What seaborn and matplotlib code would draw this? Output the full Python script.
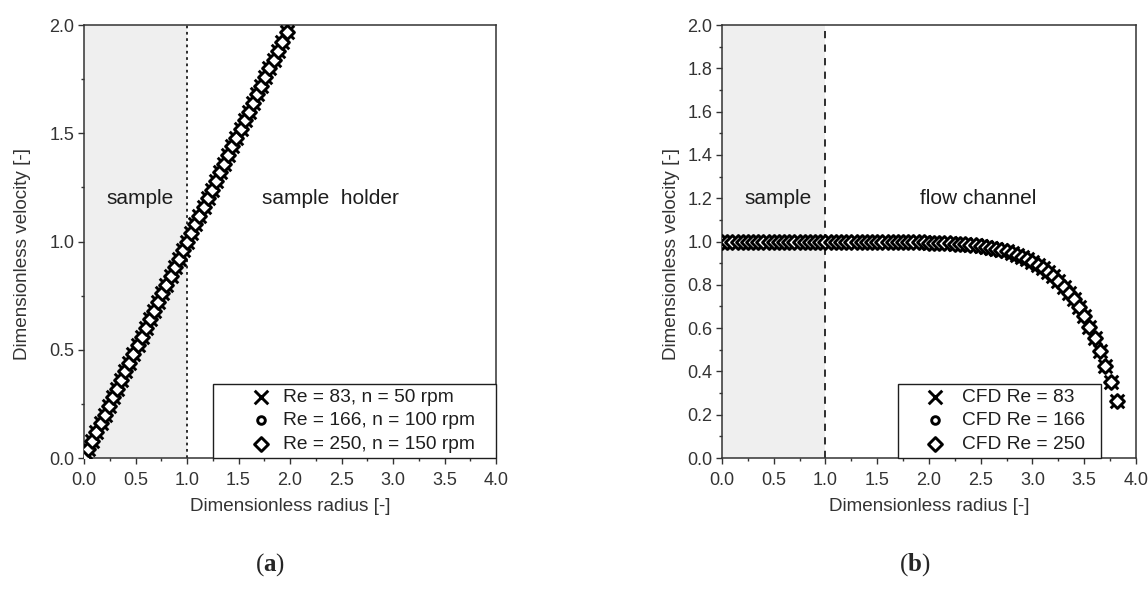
import matplotlib
matplotlib.use("Agg")
import matplotlib.pyplot as plt
from matplotlib.ticker import MultipleLocator, FormatStrFormatter
import seaborn as sns
import pandas as pd

# --- (a) rotating sample holder: linear velocity profile -------------------
radius_a = [0.00, 0.04, 0.08, 0.12, 0.16, 0.20, 0.24, 0.28, 0.32, 0.36,
            0.40, 0.44, 0.48, 0.52, 0.56, 0.60, 0.64, 0.68, 0.72, 0.76,
            0.80, 0.84, 0.88, 0.92, 0.96, 1.00, 1.04, 1.08, 1.12, 1.16,
            1.20, 1.24, 1.28, 1.32, 1.36, 1.40, 1.44, 1.48, 1.52, 1.56,
            1.60, 1.64, 1.68, 1.72, 1.76, 1.80, 1.84, 1.88, 1.92, 1.97]
velocity_a = [0.00, 0.04, 0.08, 0.12, 0.16, 0.20, 0.24, 0.28, 0.32, 0.36,
              0.40, 0.44, 0.48, 0.52, 0.56, 0.60, 0.64, 0.68, 0.72, 0.76,
              0.80, 0.84, 0.88, 0.92, 0.96, 1.00, 1.04, 1.08, 1.12, 1.16,
              1.20, 1.24, 1.28, 1.32, 1.36, 1.40, 1.44, 1.48, 1.52, 1.56,
              1.60, 1.64, 1.68, 1.72, 1.76, 1.80, 1.84, 1.88, 1.92, 1.97]
labels_a = ["Re = 83, n = 50 rpm", "Re = 166, n = 100 rpm", "Re = 250, n = 150 rpm"]

# --- (b) flow channel: CFD velocity profile ---------------------------------
radius_b = [0.00, 0.05, 0.10, 0.15, 0.20, 0.25, 0.30, 0.35, 0.40, 0.45,
            0.50, 0.55, 0.60, 0.65, 0.70, 0.75, 0.80, 0.85, 0.90, 0.95,
            1.00, 1.05, 1.10, 1.15, 1.20, 1.25, 1.30, 1.35, 1.40, 1.45,
            1.50, 1.55, 1.60, 1.65, 1.70, 1.75, 1.80, 1.85, 1.90, 1.95,
            2.00, 2.05, 2.10, 2.15, 2.20, 2.25, 2.30, 2.35, 2.40, 2.45,
            2.50, 2.55, 2.60, 2.65, 2.70, 2.75, 2.80, 2.85, 2.90, 2.95,
            3.00, 3.05, 3.10, 3.15, 3.20, 3.25, 3.30, 3.35, 3.40, 3.45,
            3.50, 3.55, 3.60, 3.65, 3.70, 3.76, 3.82]
velocity_b = [1.000, 1.000, 1.000, 1.000, 1.000, 1.000, 1.000, 1.000, 1.000, 1.000,
              1.000, 1.000, 1.000, 1.000, 1.000, 1.000, 1.000, 1.000, 1.000, 1.000,
              1.000, 1.000, 1.000, 1.000, 1.000, 1.000, 1.000, 1.000, 1.000, 1.000,
              0.999, 0.999, 0.999, 0.999, 0.998, 0.998, 0.998, 0.997, 0.997, 0.996,
              0.995, 0.995, 0.994, 0.993, 0.992, 0.990, 0.989, 0.987, 0.985, 0.982,
              0.979, 0.976, 0.972, 0.967, 0.961, 0.954, 0.945, 0.937, 0.928, 0.917,
              0.905, 0.891, 0.876, 0.859, 0.839, 0.817, 0.792, 0.764, 0.733, 0.698,
              0.655, 0.607, 0.553, 0.493, 0.425, 0.350, 0.262]
labels_b = ["CFD Re = 83", "CFD Re = 166", "CFD Re = 250"]

sns.set_theme(style="ticks")
plt.rcParams["font.family"] = ["Liberation Sans", "DejaVu Sans"]
plt.rcParams["mathtext.fontset"] = "custom"
plt.rcParams["mathtext.rm"] = "Liberation Serif"
plt.rcParams["mathtext.bf"] = "Liberation Serif:bold"

TXT = "#333333"
INK = "#1e1e1e"
fig = plt.figure(figsize=(11.48, 6.04), dpi=100)
ax_a = fig.add_axes([0.0732, 0.2417, 0.3589, 0.7169])
ax_b = fig.add_axes([0.6289, 0.2417, 0.3606, 0.7169])


def draw_series(ax, r, v, labels, pad):
    df = pd.DataFrame({"r": r, "v": v})
    names = [lab + pad for lab in labels]
    # cross
    sns.scatterplot(data=df, x="r", y="v", ax=ax, marker="x", s=95,
                    color="black", linewidth=2.1, label=names[0], zorder=3)
    # small open circle
    sns.scatterplot(data=df, x="r", y="v", ax=ax, marker="o", s=30,
                    facecolor="white", edgecolor="black", linewidth=2.1,
                    label=names[1], zorder=4)
    # open diamond
    sns.scatterplot(data=df, x="r", y="v", ax=ax, marker="D", s=50,
                    facecolor="white", edgecolor="black", linewidth=2.1,
                    label=names[2], zorder=5)


def style_axes(ax, ymajor, yminor, ylabel_x):
    ax.set_xlim(0, 4)
    ax.set_ylim(0, 2)
    ax.xaxis.set_major_locator(MultipleLocator(0.5))
    ax.xaxis.set_minor_locator(MultipleLocator(0.25))
    ax.yaxis.set_major_locator(MultipleLocator(ymajor))
    ax.yaxis.set_minor_locator(MultipleLocator(yminor))
    ax.xaxis.set_major_formatter(FormatStrFormatter("%.1f"))
    ax.yaxis.set_major_formatter(FormatStrFormatter("%.1f"))
    ax.tick_params(which="major", direction="out", length=4, width=1,
                   color="#333333", labelsize=13, labelcolor=TXT)
    ax.tick_params(axis="x", which="major", pad=6)
    ax.tick_params(axis="y", which="major", pad=3)
    ax.tick_params(which="minor", direction="out", length=2.5, width=1,
                   color="#333333")
    for sp in ax.spines.values():
        sp.set_visible(True)
        sp.set_color("#333333")
        sp.set_linewidth(1.1)
    ax.set_xlabel("Dimensionless radius [-]", fontsize=13.6, color=TXT)
    ax.set_ylabel("Dimensionless velocity [-]", fontsize=13.6, color=TXT)
    ax.xaxis.set_label_coords(0.5, -40 / 433, transform=ax.transAxes)
    ax.yaxis.set_label_coords(ylabel_x, 0.47, transform=ax.transAxes)
    ax.axvspan(0, 1, color="#efefef", zorder=0, lw=0)


def style_legend(leg):
    fr = leg.get_frame()
    fr.set_edgecolor(INK)
    fr.set_linewidth(1.0)
    fr.set_alpha(1.0)
    for t in leg.get_texts():
        t.set_color(INK)
    leg.set_zorder(10)


# panel (a)
style_axes(ax_a, 0.5, 0.25, -0.128)
ax_a.axvline(1.0, color=INK, lw=1.3, ls=(0, (1.5, 2.0)), zorder=1)
draw_series(ax_a, radius_a, velocity_a, labels_a, "   ")
ax_a.text(0.54, 1.2, "sample", fontsize=15, color=INK, ha="center", va="center")
ax_a.text(2.39, 1.2, "sample  holder", fontsize=15, color=INK, ha="center", va="center")
leg_a = ax_a.legend(loc="lower right", bbox_to_anchor=(1.0, 0.0), borderaxespad=0,
                    fontsize=13.8, frameon=True, fancybox=False,
                    handlelength=4.4, handletextpad=-1.05,
                    labelspacing=0.3, borderpad=0.28)
style_legend(leg_a)

# panel (b)
style_axes(ax_b, 0.2, 0.1, -0.102)
ax_b.axvline(1.0, color=INK, lw=1.3, ls=(0, (4, 3.5)), zorder=1)
draw_series(ax_b, radius_b, velocity_b, labels_b, "  ")
ax_b.text(0.54, 1.2, "sample", fontsize=15, color=INK, ha="center", va="center")
ax_b.text(2.48, 1.2, "flow channel", fontsize=15, color=INK, ha="center", va="center")
leg_b = ax_b.legend(loc="lower left", bbox_to_anchor=(0.425, 0.0), borderaxespad=0,
                    fontsize=13.8, frameon=True, fancybox=False,
                    handlelength=3.3, handletextpad=-0.25,
                    labelspacing=0.3, borderpad=0.28)
style_legend(leg_b)

fig.text(270 / 1148, 1 - 565 / 604, r"($\mathbf{a}$)", fontsize=18,
         ha="center", va="center", family="Liberation Serif")
fig.text(915 / 1148, 1 - 565 / 604, r"($\mathbf{b}$)", fontsize=18,
         ha="center", va="center", family="Liberation Serif")

fig.savefig("out.png", dpi=100, facecolor="white")
